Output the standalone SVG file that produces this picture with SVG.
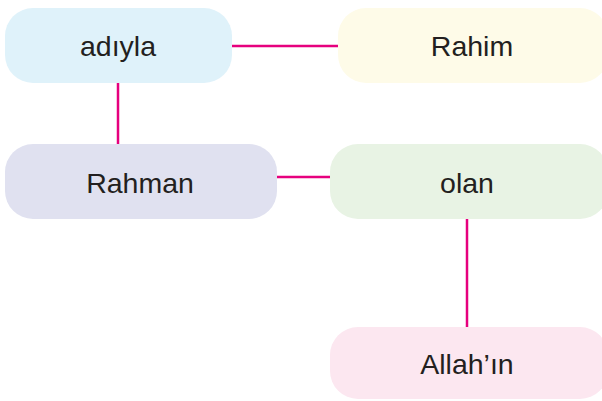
<svg xmlns="http://www.w3.org/2000/svg" width="602" height="401" viewBox="0 0 602 401">
<style>
.t{font-family:"Liberation Sans",Arial,sans-serif;font-size:28.5px;fill:#231F20;text-anchor:middle}
.c{stroke:#E6007E;stroke-width:2.5;fill:none}
</style>
<rect width="602" height="401" fill="#fff"/>
<g id="connectors">
<line class="c" x1="232" y1="46" x2="338" y2="46"/>
<line class="c" x1="118" y1="83" x2="118" y2="144"/>
<line class="c" x1="277" y1="177" x2="330" y2="177"/>
<line class="c" x1="467" y1="219" x2="467" y2="327"/>
</g>
<g id="adiyla"><rect x="5" y="8" width="227" height="75" rx="28" fill="#DFF2FA"/><text class="t" x="118" y="56">adıyla</text></g>
<g id="rahim"><rect x="338" y="8" width="270" height="75" rx="28" fill="#FEFBE8"/><text class="t" x="472" y="56">Rahim</text></g>
<g id="rahman"><rect x="5" y="144" width="272" height="75" rx="28" fill="#E0E1F0"/><text class="t" x="140" y="193">Rahman</text></g>
<g id="olan"><rect x="330" y="144" width="278" height="75" rx="28" fill="#E8F3E4"/><text class="t" x="467" y="193">olan</text></g>
<g id="allahin"><rect x="330" y="327" width="278" height="72" rx="28" fill="#FCE7F0"/><text class="t" x="467" y="374">Allah’ın</text></g>
</svg>
